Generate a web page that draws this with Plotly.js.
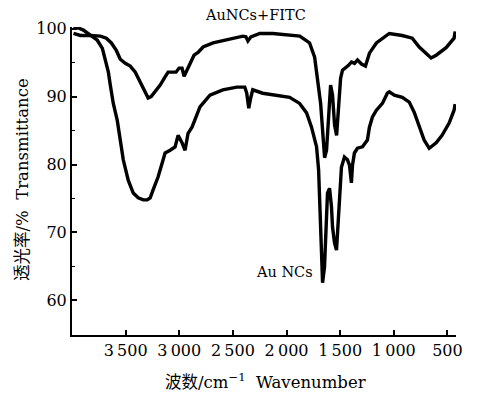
<!DOCTYPE html>
<html>
<head>
<meta charset="utf-8">
<script src="https://cdn.plot.ly/plotly-3.0.1.min.js"></script>
<style>html,body{margin:0;padding:0;background:#fff;}#chart{width:478px;height:396px;}</style>
</head>
<body>
<div id="chart"></div>
<script>
// AuNCs+FITC (upper curve)
const fitcWave = [3986,3921,3828,3735,3680,3633,3587,3550,3503,3457,3410,3364,3317,3290,3262,3225,3178,3132,3104,3067,3030,3002,2974,2955,2928,2900,2862,2825,2778,2685,2592,2500,2407,2379,2360,2332,2249,2128,1970,1877,1812,1785,1738,1710,1682,1664,1645,1627,1608,1589,1571,1552,1533,1515,1496,1478,1450,1422,1394,1366,1338,1301,1264,1227,1162,1069,1042,921,828,763,698,652,605,512,438,428];
const fitcT    = [99.3,99.0,99.0,98.9,98.6,97.9,96.8,95.5,94.9,94.5,93.6,92.1,90.7,89.8,90.0,90.7,91.7,92.9,93.6,93.6,93.6,94.2,94.2,93.0,93.9,94.9,96.1,96.5,97.3,97.9,98.2,98.6,98.9,98.8,98.2,98.8,99.3,99.3,99.1,98.9,98.2,97.9,95.8,92.4,89.0,85.1,81.0,82.1,88.0,91.7,90.2,85.8,84.3,88.0,92.7,93.9,94.2,94.6,95.1,94.9,95.4,94.8,94.5,96.4,97.9,99.0,99.3,99.0,98.6,97.3,96.4,95.7,96.1,97.2,98.6,99.6];

// Au NCs (lower curve)
const ncWave = [3987,3940,3894,3829,3764,3717,3689,3661,3643,3615,3578,3550,3522,3476,3429,3383,3336,3299,3271,3243,3197,3160,3132,3085,3039,3011,2974,2946,2918,2881,2835,2807,2714,2594,2464,2389,2371,2352,2334,2315,2222,2092,1971,1878,1813,1767,1720,1701,1692,1683,1674,1664,1646,1627,1618,1599,1581,1571,1553,1534,1525,1506,1488,1460,1432,1413,1395,1385,1367,1339,1292,1246,1227,1199,1162,1106,1060,1042,995,921,856,810,763,717,670,605,550,484,438,428];
const ncT    = [100.2,100.1,99.8,99.0,98.3,97.1,95.4,93.6,91.7,89.0,86.5,83.6,80.7,77.7,75.8,75.1,74.8,74.8,75.1,76.3,78.2,80.2,81.7,82.1,82.6,84.3,83.2,82.1,84.6,85.5,87.6,88.5,90.2,91.0,91.4,91.4,90.5,88.3,89.8,91.0,90.5,90.2,89.9,89.0,87.6,85.5,82.6,79.2,74.8,68.9,65.5,62.6,64.9,72.3,75.8,76.5,73.8,70.8,68.5,67.4,69.9,75.8,79.6,81.1,80.7,79.9,77.3,79.9,81.7,82.4,82.6,83.6,85.5,87.0,88.0,89.0,90.5,90.7,90.2,89.9,89.2,87.7,85.5,83.6,82.4,83.2,84.3,86.1,88.0,88.9];

const xTicks = [3500,3000,2500,2000,1500,1000,500];
const xTickText = ['3\u2009500','3\u2009000','2\u2009500','2\u2009000','1\u2009500','1\u2009000','500'];
const yTicks = [60,70,80,90,100];

const FONT = '"DejaVu Serif", "Liberation Serif", "Noto Sans CJK SC", serif';

const traces = [
  {x: fitcWave, y: fitcT, mode: 'lines', line: {color: '#000', width: 3.4}, hoverinfo: 'skip'},
  {x: ncWave, y: ncT, mode: 'lines', line: {color: '#000', width: 3.4}, hoverinfo: 'skip'}
];

const layout = {
  width: 478, height: 396,
  margin: {l: 72, r: 22, t: 27, b: 61},
  paper_bgcolor: '#fff', plot_bgcolor: '#fff',
  showlegend: false,
  font: {family: FONT, color: '#000', size: 16},
  xaxis: {
    range: [4000, 420], showgrid: false, zeroline: false,
    showline: true, linecolor: '#000', linewidth: 2,
    ticks: 'inside', ticklen: 5, tickwidth: 2, tickcolor: '#000',
    tickvals: xTicks, ticktext: xTickText,
    tickfont: {family: FONT, size: 16}
  },
  yaxis: {
    range: [54.9, 100.25], showgrid: false, zeroline: false,
    showline: true, linecolor: '#000', linewidth: 2,
    ticks: 'inside', ticklen: 5, tickwidth: 2, tickcolor: '#000',
    tickvals: yTicks,
    minor: {ticks: 'inside', dtick: 5, tick0: 0, ticklen: 3, tickwidth: 1.5, tickcolor: '#000', showgrid: false},
    tickfont: {family: FONT, size: 16}
  },
  annotations: [
    {text: 'AuNCs+FITC', xref: 'paper', yref: 'paper', x: (255-72)/384, y: (335-15)/308, xanchor: 'center', yanchor: 'middle', showarrow: false, font: {family: FONT, size: 14.5}},
    {text: 'Au NCs', xref: 'paper', yref: 'paper', x: (315-72)/384, y: (335-272)/308, xanchor: 'right', yanchor: 'middle', showarrow: false, font: {family: FONT, size: 14.5}},
    {text: '波数/cm<sup>−1</sup>  Wavenumber', xref: 'paper', yref: 'paper', x: (265-72)/384, y: (335-381)/308, xanchor: 'center', yanchor: 'middle', showarrow: false, font: {family: FONT, size: 16.5}},
    {text: '透光率/%  Transmittance', xref: 'paper', yref: 'paper', x: (22-72)/384, y: (335-180)/308, xanchor: 'center', yanchor: 'middle', textangle: -90, showarrow: false, font: {family: FONT, size: 16.5}}
  ]
};

Plotly.newPlot('chart', traces, layout, {staticPlot: true, displayModeBar: false});
</script>
</body>
</html>
